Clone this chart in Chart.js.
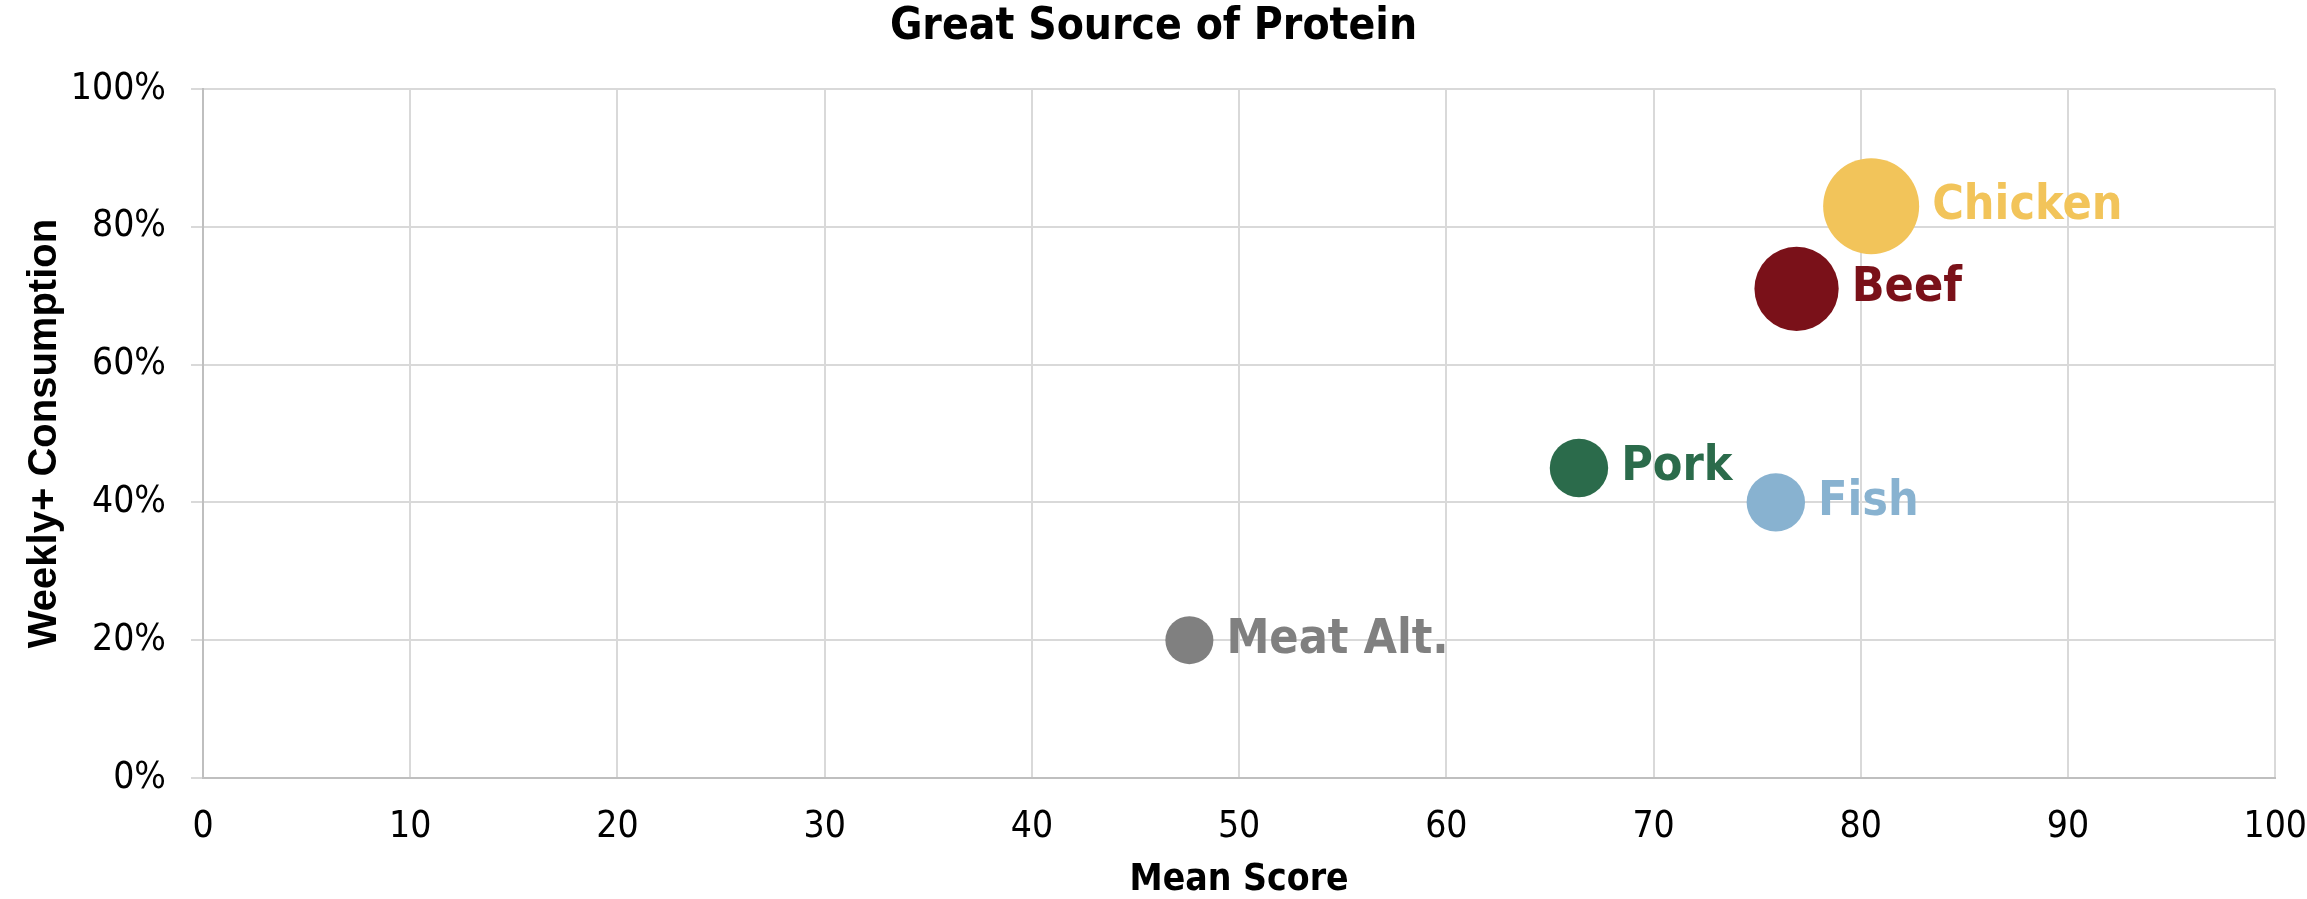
<!DOCTYPE html>
<html>
<head>
<meta charset="utf-8">
<title>Great Source of Protein</title>
<script src="https://cdn.jsdelivr.net/npm/chart.js@4.4.1/dist/chart.umd.min.js"></script>
<style>
  html, body { margin: 0; padding: 0; background: #ffffff; }
  #wrap { width: 2307px; height: 899px; position: relative; }
</style>
</head>
<body>
<div id="wrap"><canvas id="chart"></canvas></div>
<script>
// Protein types, their mean score, weekly+ consumption share and bubble size
const proteins    = ['Chicken', 'Beef', 'Pork', 'Fish', 'Meat Alt.'];
const meanScores  = [80.5, 76.9, 66.4, 75.9, 47.6];
const weeklyShare = [83, 71, 45, 40, 20];
const bubbleSizes = [100, 77, 37, 37, 25];
const colors      = ['#F2C45A', '#7A1119', '#2B6B4B', '#88B2D0', '#808080'];
const xTicks      = [0, 10, 20, 30, 40, 50, 60, 70, 80, 90, 100];
const yTicks      = [0, 20, 40, 60, 80, 100];

const MAX_RADIUS = 48;
const radiusOf = s => MAX_RADIUS * Math.sqrt(s / Math.max(...bubbleSizes));

const tahoma = '"DejaVu Sans Condensed", "DejaVu Sans", sans-serif';

const datasets = proteins.map((name, i) => ({
  label: name,
  data: [{ x: meanScores[i], y: weeklyShare[i], r: radiusOf(bubbleSizes[i]) }],
  backgroundColor: colors[i],
  borderWidth: 0,
  hoverBorderWidth: 0
}));

// Writes each protein's name to the right of its bubble, in the bubble colour
const bubbleLabels = {
  id: 'bubbleLabels',
  afterDatasetsDraw(chart) {
    const ctx = chart.ctx;
    ctx.save();
    ctx.font = 'bold 48px ' + tahoma;
    ctx.textAlign = 'left';
    ctx.textBaseline = 'middle';
    chart.data.datasets.forEach((ds, i) => {
      const el = chart.getDatasetMeta(i).data[0];
      const r = ds.data[0].r;
      ctx.fillStyle = colors[i];
      ctx.fillText(proteins[i], el.x + r + 13, el.y);
    });
    ctx.restore();
  }
};

new Chart(document.getElementById('chart'), {
  type: 'bubble',
  data: { datasets },
  plugins: [bubbleLabels],
  options: {
    responsive: true,
    maintainAspectRatio: false,
    animation: false,
    events: [],
    layout: { autoPadding: false, padding: { left: 0, right: 0, top: 0, bottom: 0 } },
    plugins: {
      legend: { display: false },
      tooltip: { enabled: false },
      title: {
        display: true,
        text: 'Great Source of Protein',
        color: '#000000',
        font: { family: tahoma, size: 44, weight: 'bold', lineHeight: 1 },
        padding: { top: 6, bottom: 39 }
      }
    },
    scales: {
      x: {
        type: 'linear',
        min: 0,
        max: 100,
        afterBuildTicks: s => { s.ticks = xTicks.map(v => ({ value: v })); },
        afterFit: s => { s.height = 121; },
        grid: { color: '#D9D9D9', lineWidth: 2, drawTicks: false },
        border: { color: '#BFBFBF', width: 2 },
        ticks: {
          color: '#000000',
          padding: 0,
          maxRotation: 0,
          // a tall line box drops the labels below the axis
          font: { family: tahoma, size: 37, lineHeight: 2.65 }
        },
        title: {
          display: true,
          text: 'Mean Score',
          color: '#000000',
          font: { family: tahoma, size: 37, weight: 'bold', lineHeight: 1 },
          padding: { top: 0, bottom: 0 }
        }
      },
      y: {
        type: 'linear',
        min: 0,
        max: 100,
        afterBuildTicks: s => { s.ticks = yTicks.map(v => ({ value: v })); },
        afterFit: s => { s.width = 203; },
        grid: { color: '#D9D9D9', lineWidth: 2, tickLength: 12 },
        border: { color: '#BFBFBF', width: 2 },
        ticks: {
          color: '#000000',
          padding: 25,
          font: { family: tahoma, size: 37 },
          callback: v => v + '%'
        },
        title: {
          display: true,
          text: 'Weekly+ Consumption',
          color: '#000000',
          font: { family: '"Liberation Sans", Arial, sans-serif', size: 40, weight: 'bold', lineHeight: 1.2 },
          padding: { top: 21, bottom: 0 }
        }
      }
    }
  }
});
</script>
</body>
</html>
